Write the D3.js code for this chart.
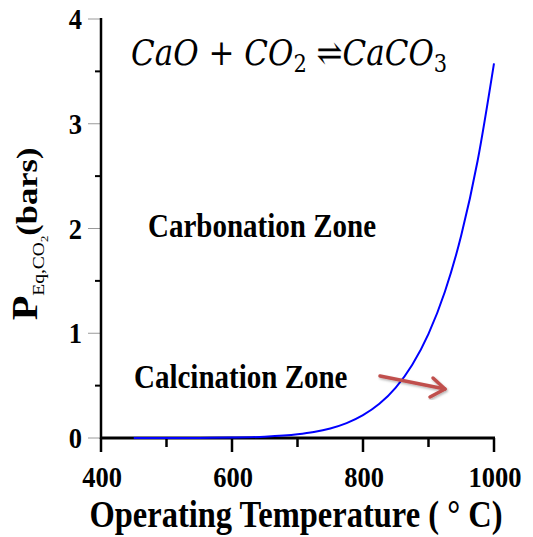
<!DOCTYPE html>
<html>
<head>
<meta charset="utf-8">
<script src="https://cdn.jsdelivr.net/npm/d3@7"></script>
<style>
  html, body { margin: 0; padding: 0; background: #fff; }
  svg { display: block; }
</style>
</head>
<body>
<svg id="chart" width="533" height="537"></svg>
<script>
// Equilibrium CO2 partial pressure over CaO/CaCO3 (bars) vs temperature (°C)
const temperatures = [450, 500, 550, 600, 650, 700, 725, 750, 775, 800, 825, 850, 875, 900, 925, 950, 975, 1000];
const pressures    = [0.00004, 0.0002, 0.001, 0.0037, 0.012, 0.035, 0.057, 0.091, 0.142, 0.218, 0.326, 0.481, 0.697, 0.994, 1.396, 1.935, 2.647, 3.577];
const xTicks = [400, 600, 800, 1000];
const xMinorTicks = [500, 700, 900];
const yTicks = [0, 1, 2, 3, 4];
const yMinorTicks = [0.5, 1.5, 2.5, 3.5];

const svg = d3.select("#chart");
const serif = "'Liberation Serif', 'Times New Roman', serif";
const mathSerif = "'DejaVu Serif', 'Liberation Serif', serif";
const stretch = 1.15; // text is drawn slightly taller than wide

const x = d3.scaleLinear().domain([400, 1000]).range([101, 494]);
const y = d3.scaleLinear().domain([0, 4]).range([438, 19]);

// y axis: thin grey major ticks, short black minor ticks
const yAxis = svg.append("g");
yAxis.selectAll("line.major").data(yTicks).join("line")
  .attr("class", "major")
  .attr("x1", 88).attr("x2", 100)
  .attr("y1", d => y(d)).attr("y2", d => y(d))
  .attr("stroke", "#9a9a9a").attr("stroke-width", 1);
yAxis.selectAll("line.minor").data(yMinorTicks).join("line")
  .attr("class", "minor")
  .attr("x1", 95).attr("x2", 101)
  .attr("y1", d => y(d)).attr("y2", d => y(d))
  .attr("stroke", "#000").attr("stroke-width", 2);
yAxis.append("line")
  .attr("x1", x(400)).attr("x2", x(400))
  .attr("y1", y(4) - 1).attr("y2", y(0) + 1)
  .attr("stroke", "#000").attr("stroke-width", 2.5);
yAxis.selectAll("text").data(yTicks).join("text")
  .attr("transform", d => `translate(82,${y(d) + 10}) scale(1,${stretch})`)
  .attr("text-anchor", "end")
  .attr("font-family", serif).attr("font-weight", "bold").attr("font-size", 26.5)
  .text(d => d);

// x axis
const xAxis = svg.append("g");
xAxis.selectAll("line.major").data(xTicks).join("line")
  .attr("class", "major")
  .attr("x1", d => x(d)).attr("x2", d => x(d))
  .attr("y1", y(0)).attr("y2", y(0) + 14)
  .attr("stroke", "#000").attr("stroke-width", 2.5);
xAxis.selectAll("line.minor").data(xMinorTicks).join("line")
  .attr("class", "minor")
  .attr("x1", d => x(d)).attr("x2", d => x(d))
  .attr("y1", y(0)).attr("y2", y(0) + 9)
  .attr("stroke", "#000").attr("stroke-width", 2.5);
xAxis.append("line")
  .attr("x1", x(400) - 1).attr("x2", x(1000) + 1)
  .attr("y1", y(0)).attr("y2", y(0))
  .attr("stroke", "#000").attr("stroke-width", 3);
xAxis.selectAll("text").data(xTicks).join("text")
  .attr("transform", d => `translate(${x(d) + 1},487) scale(1,${stretch})`)
  .attr("text-anchor", "middle")
  .attr("font-family", serif).attr("font-weight", "bold").attr("font-size", 26.5)
  .text(d => d);

// axis titles
svg.append("text")
  .attr("transform", `translate(296,527) scale(1,${stretch})`)
  .attr("text-anchor", "middle")
  .attr("font-family", serif).attr("font-weight", "bold").attr("font-size", 32.5)
  .text("Operating Temperature ( \u00B0 C)");

const yTitle = svg.append("text")
  .attr("transform", `translate(37,234) scale(1,${stretch}) rotate(-90)`)
  .attr("text-anchor", "middle")
  .attr("font-family", serif).attr("font-weight", "bold");
yTitle.append("tspan").attr("font-size", 35).text("P");
yTitle.append("tspan").attr("font-size", 17).attr("font-weight", "normal").attr("dy", 7).text("Eq,CO");
yTitle.append("tspan").attr("font-size", 11).attr("font-weight", "normal").attr("dy", 4).text("2");
yTitle.append("tspan").attr("font-size", 30).attr("dy", -11).text("(bars)");

// reaction equation
const eq = svg.append("text")
  .attr("transform", `translate(131,65) scale(1,${stretch})`)
  .attr("font-family", mathSerif).attr("font-style", "italic").attr("font-size", 31);
eq.append("tspan").text("CaO");
eq.append("tspan").attr("font-style", "normal").text(" + ");
eq.append("tspan").text("CO");
eq.append("tspan").attr("font-size", 21).attr("font-style", "normal").attr("dy", 6).text("2");
eq.append("tspan").attr("dy", -6).attr("font-style", "normal").text(" \u21CC");
eq.append("tspan").text("CaCO");
eq.append("tspan").attr("font-size", 21).attr("font-style", "normal").attr("dy", 6).text("3");

// zone labels
svg.append("text")
  .attr("transform", `translate(148,237) scale(1,${stretch})`)
  .attr("font-family", serif).attr("font-weight", "bold").attr("font-size", 29)
  .text("Carbonation Zone");
svg.append("text")
  .attr("transform", `translate(134,388) scale(1,${stretch})`)
  .attr("font-family", serif).attr("font-weight", "bold").attr("font-size", 29)
  .text("Calcination Zone");

// equilibrium curve
const line = d3.line()
  .x((d, i) => x(temperatures[i]))
  .y(d => y(d))
  .curve(d3.curveMonotoneX);
svg.append("path")
  .datum(pressures)
  .attr("d", line)
  .attr("fill", "none")
  .attr("stroke", "#0000ff")
  .attr("stroke-width", 2);

// arrow pointing into the calcination zone
const defs = svg.append("defs");
defs.append("filter").attr("id", "soft")
  .append("feDropShadow")
  .attr("dx", 1).attr("dy", 1.5).attr("stdDeviation", 1)
  .attr("flood-color", "#000").attr("flood-opacity", 0.3);
const arrow = svg.append("g")
  .attr("stroke", "#c0504d").attr("stroke-width", 3.5)
  .attr("stroke-linecap", "round").attr("stroke-linejoin", "round").attr("fill", "none")
  .attr("filter", "url(#soft)");
arrow.append("line").attr("x1", 380).attr("y1", 376).attr("x2", 445).attr("y2", 389);
arrow.append("polyline").attr("points", "433,378 445,389 430,397");
</script>
</body>
</html>
